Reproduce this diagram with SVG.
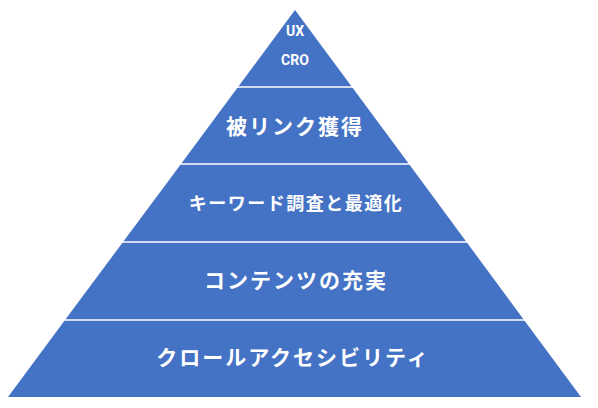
<svg xmlns="http://www.w3.org/2000/svg" width="598" height="408" viewBox="0 0 598 408">
<style>
.band{fill:#4472C4;}
.sep{stroke:#FFFFFF;stroke-width:1.5;fill:none;}
.t{fill:#FFFFFF;font-family:"Noto Sans CJK JP","Noto Sans",sans-serif;font-weight:bold;text-anchor:middle;}
.big{font-size:21px;letter-spacing:2px;}
.mid{font-size:18px;letter-spacing:1.5px;}
.en{font-family:Roboto,"Liberation Sans",sans-serif;font-size:14px;font-weight:bold;fill:#FFFFFF;text-anchor:middle;}
</style>
<rect width="598" height="408" fill="#FFFFFF"/>
<g id="level-top">
<polygon class="band" points="295,10 352,87 238,87"/>
<text class="en" x="295" y="36">UX</text>
<text class="en" x="295" y="65">CRO</text>
</g>
<g id="level-backlinks">
<polygon class="band" points="238,87 352,87 409,164 181,164"/>
<text class="t big" x="295" y="134">被リンク獲得</text>
</g>
<g id="level-keywords">
<polygon class="band" points="181,164 409,164 466.5,242 123,242"/>
<text class="t mid" x="296" y="210">キーワード調査と最適化</text>
</g>
<g id="level-content">
<polygon class="band" points="123,242 466.5,242 524,320 65,320"/>
<text class="t big" x="296" y="288">コンテンツの充実</text>
</g>
<g id="level-crawl">
<polygon class="band" points="65,320 524,320 581,397 8,397"/>
<text class="t big" x="293" y="365">クロールアクセシビリティ</text>
</g>
<g id="connectors">
<line class="sep" x1="237" y1="87" x2="353" y2="87"/>
<line class="sep" x1="180" y1="164" x2="410" y2="164"/>
<line class="sep" x1="122" y1="242" x2="468" y2="242"/>
<line class="sep" x1="64" y1="320" x2="525" y2="320"/>
</g>
</svg>
